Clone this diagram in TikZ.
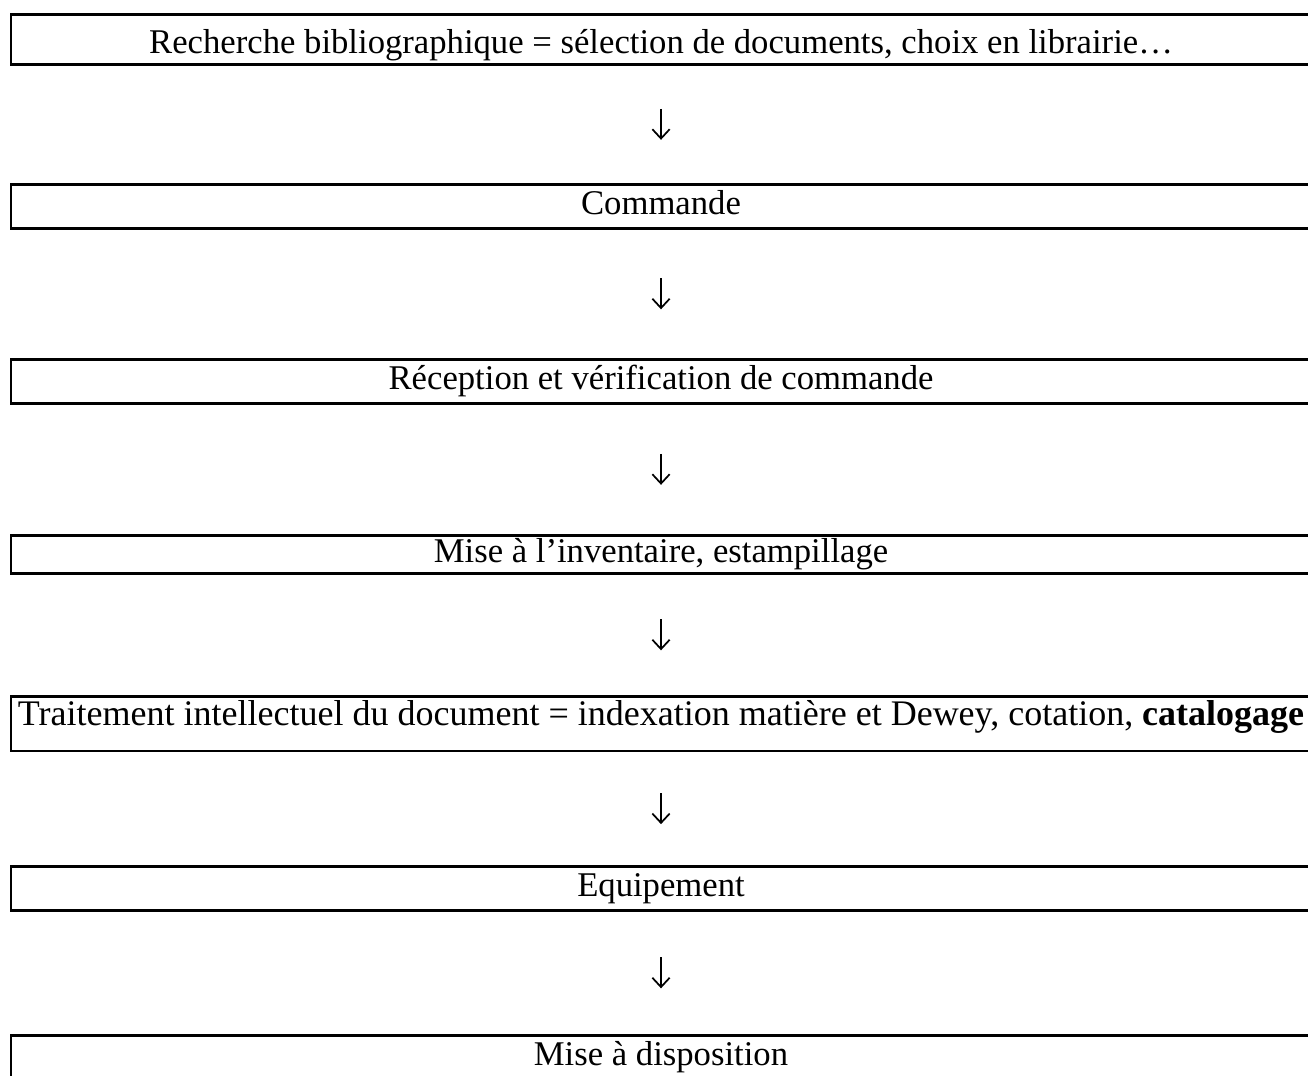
\documentclass[tikz,border=0pt]{standalone}
\usepackage{fontspec}
\setmainfont{Liberation Serif}
\usetikzlibrary{arrows.meta, calc, positioning}

\tikzset{
  etape/.style={draw, line width=2pt, minimum width=975pt, minimum height=33pt,
    inner sep=0pt, text height=18pt, text depth=6pt, anchor=north,
    font=\fontsize{26}{30}\selectfont},
  fleche/.style={-{Straight Barb[length=7pt, width=13pt]}, line width=1.3pt}
}

\begin{document}
\begin{tikzpicture}[x=0.75pt, y=-0.75pt]
\useasboundingbox (0,0) rectangle (1308,1075);
\clip (0,0) rectangle (1308,1075);
% les etapes de la chaine du livre
\node[etape, minimum height=37.5pt, text height=27pt] (b1) at (661,13) {Recherche bibliographique = sélection de documents, choix en librairie…};
\node[etape] (b2) at (661,183) {Commande};
\node[etape] (b3) at (661,358) {Réception et vérification de commande};
\node[etape, minimum height=28.5pt] (b4) at (661,534) {Mise à l’inventaire, estampillage};
\node[etape, minimum height=41pt, text height=8pt, font=\fontsize{27}{31}\selectfont] (b5) at (661,695) {Traitement intellectuel du document = indexation matière et Dewey, cotation, \textbf{catalogage}};
\node[etape] (b6) at (661,865) {Equipement};
\node[etape] (b7) at (661,1034) {Mise à disposition};
% fleches entre les etapes
\foreach \a/\b in {b1/b2, b2/b3, b3/b4, b4/b5, b5/b6, b6/b7} {
  \coordinate (m) at ($(\a.south)!.5!(\b.north)$);
  \draw[fleche] ([yshift=11.6pt]m) -- ([yshift=-11.6pt]m);
}
\end{tikzpicture}
\end{document}
